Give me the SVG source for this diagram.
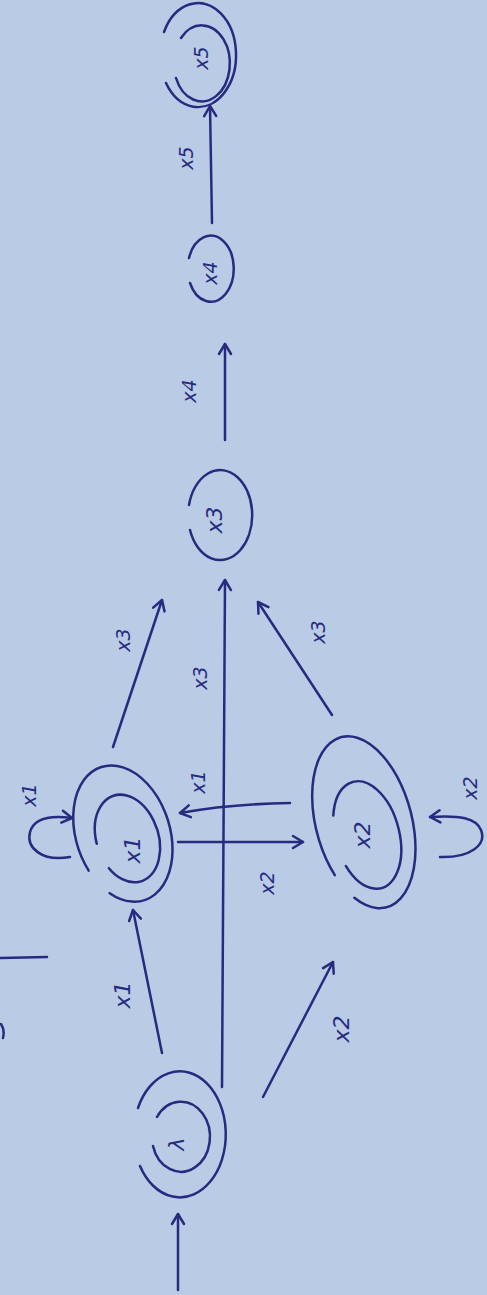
<svg xmlns="http://www.w3.org/2000/svg" width="487" height="1295" viewBox="0 0 487 1295">
<style>
.ink{fill:none;stroke:#272b80;stroke-width:2.5;stroke-linecap:round;stroke-linejoin:round}
.lbl{font-family:"DejaVu Sans",sans-serif;font-style:italic;fill:#272b80;text-anchor:middle;dominant-baseline:central}
.s{font-size:22px}
.m{font-size:19px}
</style>
<defs>
<marker id="ah" viewBox="-12 -8 14 16" refX="0" refY="0" markerWidth="14" markerHeight="16" markerUnits="userSpaceOnUse" orient="auto">
<path d="M-10,-6 L0,0 L-10,6" fill="none" stroke="#272b80" stroke-width="2.5" stroke-linecap="round" stroke-linejoin="round"/>
</marker>
</defs>
<rect width="487" height="1295" fill="#bacbe5"/>
<g id="connectors">
<path class="ink" d="M178,1290 L178,1214" marker-end="url(#ah)"/>
<path class="ink" d="M162,1053 L133,910" marker-end="url(#ah)"/>
<path class="ink" d="M263,1097 L333,962" marker-end="url(#ah)"/>
<path class="ink" d="M222,1087 L225,580" marker-end="url(#ah)"/>
<path class="ink" d="M113,747 L162,600" marker-end="url(#ah)"/>
<path class="ink" d="M332,715 L258,602" marker-end="url(#ah)"/>
<path class="ink" d="M290,803 Q230,804 180,813" marker-end="url(#ah)"/>
<path class="ink" d="M178,842 L303,842" marker-end="url(#ah)"/>
<path class="ink" d="M225,440 L225,344" marker-end="url(#ah)"/>
<path class="ink" d="M212,223 L210,106" marker-end="url(#ah)"/>
<path class="ink" d="M70,857 C42,862 26,848 30,832 C34,818 50,815 72,818" marker-end="url(#ah)"/>
<path class="ink" d="M440,857 C470,858 487,845 481,830 C476,818 460,815 430,817" marker-end="url(#ah)"/>
<text class="lbl s" transform="rotate(-90 122 995)" x="122" y="995">x1</text>
<text class="lbl s" transform="rotate(-90 341 1029)" x="341" y="1029">x2</text>
<text class="lbl m" transform="rotate(-90 200 678)" x="200" y="678">x3</text>
<text class="lbl m" transform="rotate(-90 123 640)" x="123" y="640">x3</text>
<text class="lbl m" transform="rotate(-90 318 632)" x="318" y="632">x3</text>
<text class="lbl m" transform="rotate(-90 198 782)" x="198" y="782">x1</text>
<text class="lbl m" transform="rotate(-90 267 883)" x="267" y="883">x2</text>
<text class="lbl m" transform="rotate(-90 29 795)" x="29" y="795">x1</text>
<text class="lbl m" transform="rotate(-90 470 788)" x="470" y="788">x2</text>
<text class="lbl m" transform="rotate(-90 189 391)" x="189" y="391">x4</text>
<text class="lbl m" transform="rotate(-90 186 158)" x="186" y="158">x5</text>
</g>
<g id="marks">
<path class="ink" d="M0,958 L47,957"/>
<path class="ink" d="M1,1024 Q5,1030 3,1038"/>
</g>
<g id="s0">
<path class="ink" d="M138,1108 A46,63 0 1,1 140,1166"/>
<path class="ink" d="M157,1117 A29,35 0 1,1 153,1146"/>
<text class="lbl s" transform="rotate(-90 176 1144)" x="176" y="1144">λ</text>
</g>
<g id="x1">
<g transform="rotate(-18 124 837)">
<path class="ink" d="M80,858 A47,70 0 1,1 93,886"/>
<path class="ink" d="M96,835 A31,45 0 1,1 100,862"/>
</g>
<text class="lbl s" transform="rotate(-90 132 850)" x="132" y="850">x1</text>
</g>
<g id="x2">
<g transform="rotate(-15 363 822)">
<path class="ink" d="M322,866 A48,88 0 1,1 335,893"/>
<path class="ink" d="M336,808 A32,55 0 1,1 335,860"/>
</g>
<text class="lbl s" transform="rotate(-90 362 835)" x="362" y="835">x2</text>
</g>
<g id="x3">
<path class="ink" d="M189,505 A32,45 0 1,1 190,530"/>
<text class="lbl s" transform="rotate(-90 214 520)" x="214" y="520">x3</text>
</g>
<g id="x4">
<path class="ink" d="M189,258 A23,33 0 1,1 190,283"/>
<text class="lbl m" transform="rotate(-90 210 273)" x="210" y="273">x4</text>
</g>
<g id="x5">
<path class="ink" d="M164,32 A38,52 0 1,1 166,83"/>
<path class="ink" d="M181,38 A28,38 0 1,1 176,78"/>
<text class="lbl m" transform="rotate(-90 201 58)" x="201" y="58">x5</text>
</g>
</svg>
